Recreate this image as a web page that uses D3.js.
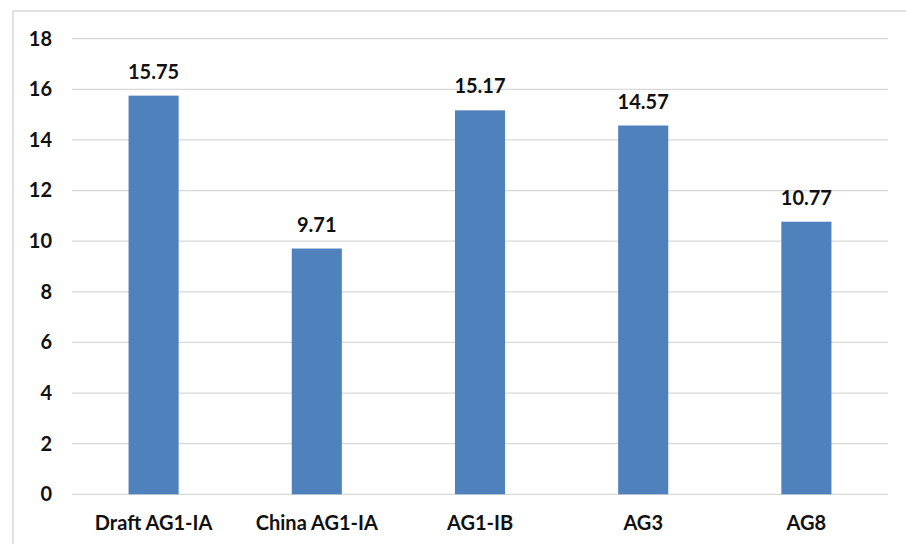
<!DOCTYPE html>
<html>
<head>
<meta charset="utf-8">
<script src="https://cdn.jsdelivr.net/npm/d3@7/dist/d3.min.js"></script>
<style>
  html, body { margin: 0; padding: 0; background: #fff; }
  svg { display: block; }
  text { font-family: Lato, "Open Sans", "Liberation Sans", sans-serif; font-weight: 700; fill: #111; }
</style>
</head>
<body>
<svg id="chart" width="906" height="544"></svg>
<script>
// Chart data
const categories = ["Draft AG1-IA", "China AG1-IA", "AG1-IB", "AG3", "AG8"];
const values = [15.75, 9.71, 15.17, 14.57, 10.77];
const yTicks = [0, 2, 4, 6, 8, 10, 12, 14, 16, 18];

const svg = d3.select("#chart");
const W = 906, H = 544;
const plot = { left: 72, right: 888, top: 38.7, bottom: 494.3 };
const FS = 20;

// Chart frame (top and left edges visible)
svg.append("rect")
  .attr("x", 13).attr("y", 11)
  .attr("width", W + 20).attr("height", H + 20)
  .attr("fill", "none")
  .attr("stroke", "#d9d9d9")
  .attr("stroke-width", 1.5);

const x = d3.scaleBand()
  .domain(categories)
  .range([plot.left, plot.right])
  .padding(0);

const y = d3.scaleLinear()
  .domain([0, 18])
  .range([plot.bottom, plot.top]);

const barW = x.bandwidth() * 0.307;

// Horizontal gridlines
svg.append("g")
  .selectAll("line")
  .data(yTicks)
  .join("line")
  .attr("x1", plot.left).attr("x2", plot.right)
  .attr("y1", d => y(d)).attr("y2", d => y(d))
  .attr("stroke", "#d9d9d9")
  .attr("stroke-width", 1.2);

// Y axis labels
const yAxis = d3.axisLeft(y).tickValues(yTicks).tickSize(0).tickPadding(0).tickFormat(d3.format("d"));
const gy = svg.append("g")
  .attr("transform", "translate(52,0)")
  .call(yAxis);
gy.select(".domain").remove();
gy.selectAll("text")
  .attr("font-size", FS)
  .attr("fill", "#111")
  .attr("font-family", "Lato, 'Open Sans', sans-serif")
  .attr("font-weight", 700);

// Bars
svg.append("g")
  .selectAll("rect")
  .data(values)
  .join("rect")
  .attr("x", (d, i) => x(categories[i]) + x.bandwidth() / 2 - barW / 2)
  .attr("y", d => y(d))
  .attr("width", barW)
  .attr("height", d => y(0) - y(d))
  .attr("fill", "#4f81bd");

// Value labels
svg.append("g")
  .selectAll("text")
  .data(values)
  .join("text")
  .attr("x", (d, i) => x(categories[i]) + x.bandwidth() / 2)
  .attr("y", d => y(d) - 17)
  .attr("text-anchor", "middle")
  .attr("font-size", FS)
  .text(d => d.toFixed(2));

// Category labels
const xAxis = d3.axisBottom(x).tickSize(0).tickPadding(0);
const gx = svg.append("g")
  .attr("transform", `translate(0,${plot.bottom + 21})`)
  .call(xAxis);
gx.select(".domain").remove();
gx.selectAll("text")
  .attr("font-size", FS)
  .attr("fill", "#111")
  .attr("font-family", "Lato, 'Open Sans', sans-serif")
  .attr("font-weight", 700);
</script>
</body>
</html>
